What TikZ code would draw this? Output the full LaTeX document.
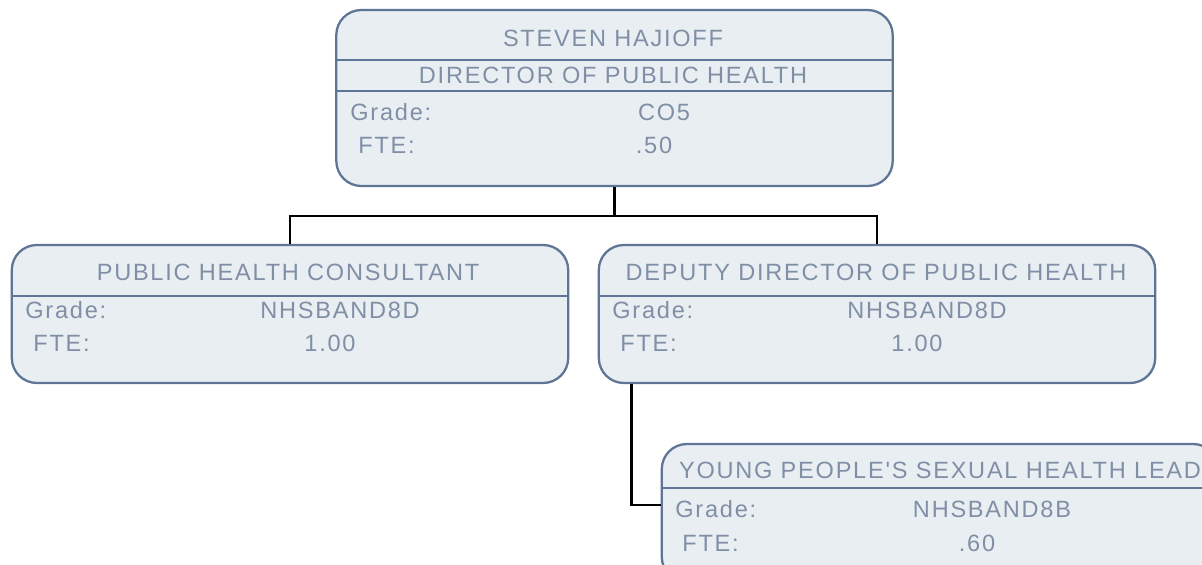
\documentclass[tikz,border=0pt]{standalone}
\usepackage{fontspec}
\newfontfamily\cardfont{Liberation Sans}[LetterSpace=7.5]
\usetikzlibrary{calc,positioning}
\definecolor{cardfill}{RGB}{233,238,242}
\definecolor{cardline}{RGB}{94,117,150}
\definecolor{cardtext}{RGB}{128,143,166}

\begin{document}
\begin{tikzpicture}[x=0.02cm, y=-0.02cm,
  card/.style={draw=cardline, fill=cardfill, line width=1.3pt, rounded corners=0.5cm,
    minimum width=11.13cm, inner sep=0pt},
  rule/.style={draw=cardline, line width=1.3pt},
  txt/.style={text=cardtext, font=\cardfont\fontsize{13.4}{16}\selectfont, inner sep=0pt,
    text height=9.6pt, text depth=0pt},
  link/.style={draw=black, line width=1.5pt}]

\useasboundingbox (0,0) rectangle (1202,564);
\clip (0,0) rectangle (1202,564);

% boxes
\node[card, minimum height=3.52cm] (dph)  at (614.5,98) {};
\node[card, minimum height=2.76cm] (phc)  at (290,314)  {};
\node[card, minimum height=2.76cm] (ddph) at (877,314)  {};
\node[card, minimum height=2.76cm] (ypsh) at (940,513)  {};

\draw[rule] (dph.west |- 0,60) -- (dph.east |- 0,60);
\draw[rule] (dph.west |- 0,91) -- (dph.east |- 0,91);
\draw[rule] (phc.west |- 0,296) -- (phc.east |- 0,296);
\draw[rule] (ddph.west |- 0,296) -- (ddph.east |- 0,296);
\draw[rule] (ypsh.west |- 0,488) -- (ypsh.east |- 0,488);

% director
\node[txt] (dphname)  at (613,38)  {STEVEN HAJIOFF};
\node[txt] (dphtitle) at (613,75)  {DIRECTOR OF PUBLIC HEALTH};
\node[txt, anchor=west] (dphgl) at (350,112) {Grade:};
\node[txt] (dphgv) at (664,112) {CO5};
\node[txt, anchor=west] (dphfl) at (358,145) {FTE:};
\node[txt] (dphfv) at (654,145) {.50};

% consultant
\node[txt] (phctitle) at (288,272) {PUBLIC HEALTH CONSULTANT};
\node[txt, anchor=west] (phcgl) at (25,310) {Grade:};
\node[txt] (phcgv) at (340,310) {NHSBAND8D};
\node[txt, anchor=west] (phcfl) at (33,343) {FTE:};
\node[txt] (phcfv) at (330,343) {1.00};

% deputy
\node[txt] (ddphtitle) at (876,272) {DEPUTY DIRECTOR OF PUBLIC HEALTH};
\node[txt, anchor=west] (ddphgl) at (612,310) {Grade:};
\node[txt] (ddphgv) at (927,310) {NHSBAND8D};
\node[txt, anchor=west] (ddphfl) at (620,343) {FTE:};
\node[txt] (ddphfv) at (917,343) {1.00};

% sexual health lead
\node[txt] (ypshtitle) at (940,470) {YOUNG PEOPLE'S SEXUAL HEALTH LEAD};
\node[txt, anchor=west] (ypshgl) at (675,509) {Grade:};
\node[txt] (ypshgv) at (992,509) {NHSBAND8B};
\node[txt, anchor=west] (ypshfl) at (682,543) {FTE:};
\node[txt] (ypshfv) at (977,543) {.60};

\draw[link] (dph.south) -- ++(0,29) -| (phc.north);
\draw[link] (dph.south) -- ++(0,29) -| (ddph.north);
\draw[link] ($(ddph.south west)+(34,0)$) |- ($(ypsh.west)+(0,-8)$);

\end{tikzpicture}
\end{document}
